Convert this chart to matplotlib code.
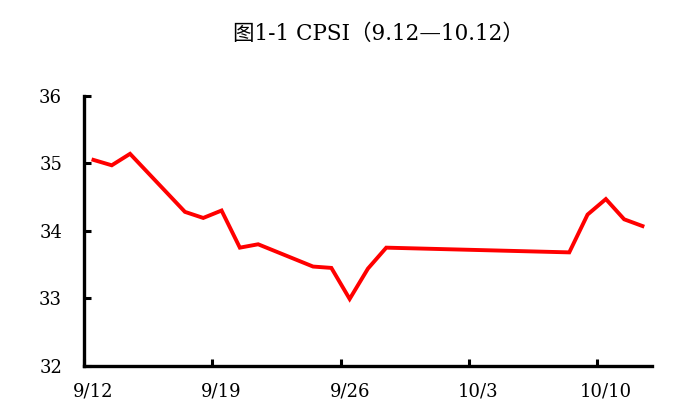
import numpy as np
import matplotlib.pyplot as plt

# days after 9/12 and CPSI values
days = [0, 1, 2, 5, 6, 7, 8, 9, 12, 13, 14, 15, 16, 26, 27, 28, 29, 30]
cpsi = [35.05, 34.97, 35.14, 34.28, 34.19, 34.30, 33.75, 33.80, 33.47, 33.45,
        32.99, 33.44, 33.75, 33.68, 34.24, 34.47, 34.17, 34.07]
tick_days = [0, 7, 14, 21, 28]
tick_labels = ['9/12', '9/19', '9/26', '10/3', '10/10']

plt.rcParams['font.family'] = ['DejaVu Serif', 'Noto Sans CJK SC']

fig = plt.figure(figsize=(6.91, 4.11), dpi=100)
ax = fig.add_axes([0.122, 0.110, 0.821, 0.657])

# points sit in the middle of each day, like an excel date axis
x = np.array(days) + 0.5
ax.plot(x, cpsi, color='#ff0000', lw=2.8, solid_joinstyle='miter')

ax.set_xlim(0, 31)
ax.set_ylim(32, 36)
ax.set_yticks([32, 33, 34, 35, 36])
ax.set_xticks(tick_days)
ax.set_xticklabels([])
ax.set_xticks(np.array(tick_days) + 0.5, minor=True)
ax.set_xticklabels(tick_labels, minor=True)

ax.tick_params(axis='x', which='major', direction='in', length=5, width=2.2)
ax.tick_params(axis='x', which='minor', length=0, pad=12, labelsize=13)
ax.tick_params(axis='y', direction='in', length=5, width=2.2, pad=16, labelsize=13)

for s in ['top', 'right']:
    ax.spines[s].set_visible(False)
for s in ['left', 'bottom']:
    ax.spines[s].set_linewidth(2.4)

fig.text(0.547, 0.917, '图1-1 CPSI（9.12—10.12）', ha='center', va='center',
         fontsize=15.5)

plt.savefig('out.png', dpi=100)
